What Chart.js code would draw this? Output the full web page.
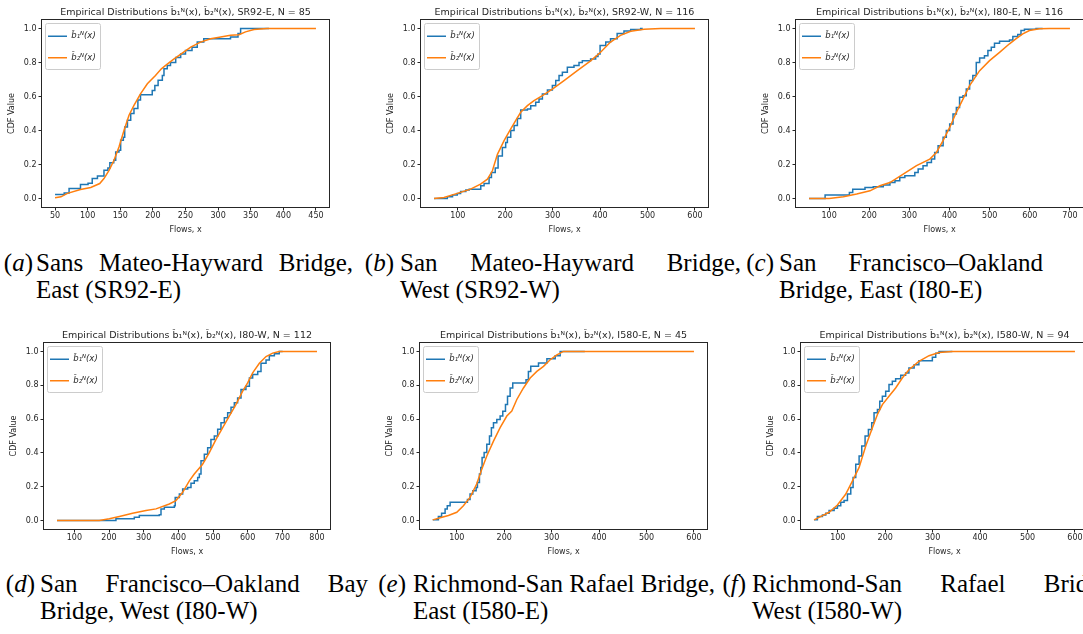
<!DOCTYPE html>
<html>
<head>
<meta charset="utf-8">
<script src="https://cdn.jsdelivr.net/npm/chart.js@4.4.0/dist/chart.umd.min.js"></script>
<style>
    html, body { margin: 0; padding: 0; background: #fff; overflow: hidden; }
    body { width: 1083px; height: 634px; position: relative; }
    canvas { position: absolute; }
    .cap { position: absolute; font-family: 'Liberation Serif', 'Times New Roman', serif; font-size: 25px; line-height: 27px; color: #000; white-space: nowrap; }
    .lab { text-align: right; }
    .just { white-space: normal; text-align: justify; text-align-last: justify; }
</style>
</head>
<body>

<div class="cap lab" style="left:-20px;width:53px;top:249px">(<i>a</i>)</div>
<div class="cap just" style="left:36px;width:317px;top:249px">Sans Mateo-Hayward Bridge,</div>
<div class="cap" style="left:36px;top:276px">East (SR92-E)</div>

<div class="cap lab" style="left:350px;width:44px;top:249px">(<i>b</i>)</div>
<div class="cap just" style="left:400px;width:341px;top:249px">San Mateo-Hayward Bridge,</div>
<div class="cap" style="left:400px;top:276px">West (SR92-W)</div>

<div class="cap lab" style="left:730px;width:44px;top:249px">(<i>c</i>)</div>
<div class="cap just" style="left:779px;width:264px;top:249px">San Francisco–Oakland</div>
<div class="cap" style="left:779px;top:276px">Bridge, East (I80-E)</div>

<div class="cap lab" style="left:-20px;width:55px;top:570px">(<i>d</i>)</div>
<div class="cap just" style="left:40px;width:328px;top:570px">San Francisco–Oakland Bay</div>
<div class="cap" style="left:40px;top:597px">Bridge, West (I80-W)</div>

<div class="cap lab" style="left:360px;width:46px;top:570px">(<i>e</i>)</div>
<div class="cap just" style="left:413px;width:302px;top:570px">Richmond-San Rafael Bridge,</div>
<div class="cap" style="left:413px;top:597px">East (I580-E)</div>

<div class="cap lab" style="left:700px;width:46px;top:570px">(<i>f</i>)</div>
<div class="cap just" style="left:752px;width:366px;top:570px">Richmond-San Rafael Bridge,</div>
<div class="cap" style="left:752px;top:597px">West (I580-W)</div>

<script>
// [flow, cdf] pairs; b1 = empirical step CDF, b2 = smooth CDF
const sr92eB1 = [[50,0.023],[64,0.033],[71.5,0.059],[89,0.082],[100.6,0.09],[107,0.117],[115,0.133],[125,0.166],[131,0.18],[134,0.211],[140,0.225],[143,0.274],[148,0.284],[150.6,0.342],[154.7,0.36],[156.8,0.42],[161,0.46],[166,0.5],[171,0.53],[177,0.58],[181,0.61],[199,0.636],[203,0.665],[208,0.695],[214.5,0.724],[217,0.763],[222,0.783],[227,0.8],[235,0.83],[242.6,0.85],[250,0.87],[260,0.89],[268,0.92],[278,0.94],[319,0.95],[330.5,0.97],[334.5,1.0],[378,1.0]];
const sr92eB2 = [[50,0.004],[59,0.01],[69,0.03],[89,0.053],[104.7,0.065],[118.5,0.088],[125,0.117],[132.8,0.166],[140.4,0.225],[148,0.303],[155.7,0.4],[163.4,0.49],[171,0.548],[181,0.616],[191.5,0.675],[204,0.724],[213,0.763],[222,0.79],[232,0.82],[245,0.855],[258,0.89],[273,0.92],[288.6,0.94],[304,0.95],[319,0.96],[332,0.963],[342,0.98],[355,0.994],[375,1.0],[450,1.0]];

const sr92wB1 = [[50,0],[74.7,0],[78,0.01],[89,0.02],[99,0.03],[106,0.041],[117,0.05],[124,0.055],[148.5,0.075],[155.5,0.088],[166,0.124],[171,0.153],[179,0.18],[185,0.25],[194,0.3],[201,0.33],[204.6,0.36],[211.7,0.4],[218.7,0.43],[225.7,0.47],[232.7,0.52],[246.8,0.527],[253.8,0.546],[264.3,0.566],[271.3,0.585],[278.4,0.615],[289,0.638],[299.4,0.664],[306.5,0.694],[313.5,0.723],[320.5,0.743],[331,0.772],[345,0.782],[355.6,0.8],[362.6,0.81],[380,0.82],[390.7,0.835],[395.6,0.85],[400,0.9],[412,0.92],[422,0.94],[436,0.97],[450.4,0.985],[464.5,0.994],[485.5,1.0],[490,1.0]];
const sr92wB2 = [[50,0],[71,0.006],[99,0.03],[127,0.055],[148,0.085],[162.5,0.114],[173,0.163],[183.6,0.26],[197.6,0.34],[211.7,0.41],[222,0.458],[232.7,0.507],[246.8,0.546],[260.8,0.576],[278.4,0.605],[299.4,0.644],[324,0.694],[352,0.752],[380,0.81],[401,0.86],[422,0.92],[443,0.96],[464.5,0.984],[492.6,0.996],[527.7,1.0],[600,1.0]];

const i80eB1 = [[50,0],[90,0.02],[150.5,0.035],[158.8,0.055],[189.4,0.065],[210,0.069],[235,0.08],[251.5,0.094],[264,0.104],[276,0.124],[288.7,0.134],[313.5,0.153],[321.8,0.173],[334,0.193],[344,0.212],[354.9,0.232],[363,0.271],[371.5,0.31],[384,0.36],[392,0.4],[400.4,0.438],[408.7,0.497],[417,0.536],[425,0.595],[433.5,0.605],[441.7,0.644],[450,0.694],[458,0.723],[466.6,0.8],[475,0.827],[487,0.84],[495.6,0.87],[504,0.89],[512,0.913],[524.6,0.925],[549.4,0.933],[557.7,0.953],[570,0.965],[578,0.988],[586.6,0.996],[615.6,1.0],[632,1.0]];
const i80eB2 = [[50,0],[100,0],[135.6,0.01],[168.7,0.026],[201.8,0.045],[226.6,0.075],[251.5,0.094],[284.6,0.143],[317.7,0.193],[350.8,0.232],[367.3,0.271],[383.9,0.34],[400.4,0.418],[417,0.507],[433.5,0.585],[450,0.664],[475,0.752],[499.7,0.811],[524.6,0.86],[549.4,0.91],[566,0.94],[582.5,0.968],[599,0.988],[623.9,0.998],[648.7,1.0],[700,1.0]];

const i80wB1 = [[50,0],[215.4,0],[220,0.01],[273,0.02],[287.5,0.03],[345,0.035],[350,0.069],[359.6,0.078],[388.5,0.088],[391,0.137],[403,0.157],[412.5,0.186],[427,0.196],[436.5,0.22],[446,0.235],[455.8,0.255],[460.6,0.275],[465.4,0.353],[475,0.392],[484.6,0.43],[494,0.48],[503.8,0.5],[513.5,0.54],[523,0.578],[532.7,0.608],[542.3,0.637],[552,0.67],[561.5,0.696],[571,0.725],[580.8,0.775],[595,0.794],[605,0.843],[614.4,0.863],[629,0.882],[638.5,0.93],[653,0.95],[662.5,0.975],[677,0.986],[691,1.0],[701,1.0]];
const i80wB2 = [[50,0],[172,0],[201,0.01],[230,0.024],[268,0.043],[306.7,0.059],[335.6,0.069],[374,0.098],[393,0.118],[412.5,0.167],[431.7,0.235],[446,0.275],[470,0.333],[489.4,0.402],[508.7,0.48],[528,0.55],[547,0.618],[566,0.686],[585.6,0.765],[600,0.814],[614.4,0.873],[633.7,0.93],[653,0.97],[672,0.99],[691,1.0],[800,1.0]];

const i580eB1 = [[49.4,0.004],[61.3,0.024],[68,0.043],[75.4,0.069],[80,0.088],[86,0.108],[122.5,0.124],[128,0.157],[133.8,0.176],[140.8,0.196],[143.6,0.225],[147.8,0.275],[150.6,0.314],[153.4,0.373],[157.7,0.402],[163.3,0.451],[169,0.5],[173,0.549],[177.4,0.578],[184.4,0.598],[191.4,0.618],[197,0.647],[202.7,0.686],[207,0.735],[212.5,0.784],[218,0.814],[246,0.833],[251,0.882],[256,0.912],[272.3,0.931],[290,0.957],[307.5,0.975],[318,1.0],[370,1.0]];
const i580eB2 = [[49.4,0.004],[65,0.016],[82.4,0.03],[100,0.049],[114,0.088],[128,0.137],[142,0.216],[152.7,0.304],[163.3,0.382],[177.4,0.47],[191.4,0.549],[205.5,0.618],[216,0.647],[226.6,0.716],[240.6,0.784],[254.7,0.843],[268.8,0.882],[282.8,0.912],[296.9,0.951],[311,0.98],[325,1.0],[600,1.0]];

const i580wB1 = [[50,0.004],[57,0.024],[67.7,0.033],[74.7,0.043],[81.7,0.059],[92.3,0.073],[99.3,0.088],[106.3,0.108],[113.3,0.118],[120.4,0.157],[127.4,0.196],[132.3,0.255],[137.9,0.333],[145,0.382],[150.6,0.441],[157.6,0.5],[164.6,0.539],[171.6,0.578],[176.5,0.637],[183.6,0.657],[188.5,0.706],[194,0.735],[201,0.765],[208,0.804],[215,0.824],[222,0.839],[232.7,0.859],[243,0.873],[250,0.902],[261,0.922],[271,0.945],[299.4,0.965],[306.5,0.99],[313.5,1.0],[341.6,1.0]];
const i580wB2 = [[50,0.004],[67.7,0.029],[81.7,0.049],[99.3,0.092],[116.9,0.157],[131,0.235],[145,0.314],[159,0.441],[173,0.549],[183.6,0.627],[194,0.686],[208,0.735],[222,0.784],[236,0.843],[250,0.892],[271,0.941],[292.4,0.975],[313.5,0.994],[341.6,1.0],[600,1.0]];

// tick labels
const ticks50to450 = [50, 100, 150, 200, 250, 300, 350, 400, 450];
const ticks100to600 = [100, 200, 300, 400, 500, 600];
const ticks100to700 = [100, 200, 300, 400, 500, 600, 700];
const ticks100to800 = [100, 200, 300, 400, 500, 600, 700, 800];
const cdfTicks = [0, 0.2, 0.4, 0.6, 0.8, 1.0];

const B1 = 'b\u0302\u2081\u1D3A(x)';
const B2 = 'b\u0302\u2082\u1D3A(x)';

// plot area: left, top, width, height (page px)
const panels = [
    { name: 'SR92-E', n: 85,  b1: sr92eB1, b2: sr92eB2, xr: [30, 470],    xt: ticks50to450,  area: [42, 20, 287, 187] },
    { name: 'SR92-W', n: 116, b1: sr92wB1, b2: sr92wB2, xr: [22.5, 627.5], xt: ticks100to600, area: [421, 20, 287, 187] },
    { name: 'I80-E',  n: 116, b1: i80eB1,  b2: i80eB2,  xr: [17.5, 732.5], xt: ticks100to700, area: [796, 20, 287, 187] },
    { name: 'I80-W',  n: 112, b1: i80wB1,  b2: i80wB2,  xr: [12.5, 837.5], xt: ticks100to800, area: [44, 343, 286, 186] },
    { name: 'I580-E', n: 45,  b1: i580eB1, b2: i580eB2, xr: [22.5, 627.5], xt: ticks100to600, area: [420, 343, 287, 186] },
    { name: 'I580-W', n: 94,  b1: i580wB1, b2: i580wB2, xr: [22.5, 627.5], xt: ticks100to600, area: [801, 343, 287, 186] },
];

const Y_AXIS_W = 44, TITLE_H = 20, X_AXIS_H = 30, RIGHT_PAD = 10;
const tickFont = { family: 'DejaVu Sans', size: 8 };
const textColor = '#262626';

const framePlugin = {
    id: 'frame',
    afterLayout(chart) {
        // legend sits inside the plot, top-left, like matplotlib's
        const lg = chart.legend;
        lg.left = chart.chartArea.left - 7;
        lg.top = chart.chartArea.top - 1;
        lg.bottom = chart.chartArea.bottom;
    },
    beforeDraw(chart) {
        const boxes = chart.legend && chart.legend.legendHitBoxes;
        if (!boxes || !boxes.length) return;
        const l = boxes[0].left - 3;
        const t = boxes[0].top - 9;
        const r = Math.max(...boxes.map(b => b.left + b.width)) + 4;
        const b = boxes[boxes.length - 1].top + 15;
        const ctx = chart.ctx;
        ctx.save();
        ctx.beginPath();
        ctx.roundRect(Math.round(l) + 0.5, Math.round(t) + 0.5, Math.round(r - l), Math.round(b - t), 2);
        ctx.fillStyle = 'rgba(255,255,255,0.8)';
        ctx.fill();
        ctx.strokeStyle = '#cccccc';
        ctx.lineWidth = 1;
        ctx.stroke();
        ctx.restore();
    },
    afterDraw(chart) {
        const a = chart.chartArea;
        const ctx = chart.ctx;
        ctx.save();
        ctx.strokeStyle = '#262626';
        ctx.lineWidth = 1;
        ctx.strokeRect(a.left - 0.5, a.top - 0.5, a.right - a.left + 1, a.bottom - a.top + 1);
        ctx.restore();
    }
};

function toPoints(pairs) {
    return pairs.map(p => ({ x: p[0], y: p[1] }));
}

function renderPanel(p, i) {
    const [left, top, w, h] = p.area;
    const canvas = document.createElement('canvas');
    canvas.id = 'panel' + i;
    canvas.width = w + Y_AXIS_W + RIGHT_PAD;
    canvas.height = h + TITLE_H + X_AXIS_H;
    canvas.style.left = (left - Y_AXIS_W) + 'px';
    canvas.style.top = (top - TITLE_H) + 'px';
    canvas.style.width = canvas.width + 'px';
    canvas.style.height = canvas.height + 'px';
    document.body.appendChild(canvas);

    new Chart(canvas, {
        type: 'line',
        data: {
            datasets: [{
                label: B1,
                data: toPoints(p.b1),
                borderColor: '#1f77b4',
                borderWidth: 1.5,
                stepped: true,
                pointRadius: 0,
                order: 1,
            }, {
                label: B2,
                data: toPoints(p.b2),
                borderColor: '#ff7f0e',
                borderWidth: 1.5,
                tension: 0,
                pointRadius: 0,
                order: 0,
            }]
        },
        options: {
            responsive: false,
            animation: false,
            events: [],
            layout: { padding: { left: 0, right: RIGHT_PAD, top: 0, bottom: 0 } },
            plugins: {
                title: {
                    display: true,
                    fullSize: false,
                    text: `Empirical Distributions ${B1}, ${B2}, ${p.name}, N = ${p.n}`,
                    color: textColor,
                    font: { family: 'DejaVu Sans', size: 9.5, weight: 'normal', lineHeight: 1.2 },
                    padding: { top: 6.5, bottom: 2.1 },
                },
                legend: {
                    position: 'chartArea',
                    align: 'start',
                    labels: {
                        usePointStyle: true,
                        pointStyle: 'line',
                        pointStyleWidth: 19,
                        padding: 13,
                        color: textColor,
                        font: { family: 'DejaVu Sans', size: 8.5, style: 'italic' },
                        sort: (a, b) => a.datasetIndex - b.datasetIndex,
                    }
                },
                tooltip: { enabled: false }
            },
            scales: {
                x: {
                    type: 'linear',
                    min: p.xr[0],
                    max: p.xr[1],
                    afterFit: s => { s.height = X_AXIS_H; },
                    afterBuildTicks: s => { s.ticks = p.xt.map(v => ({ value: v })); },
                    grid: { drawOnChartArea: false, tickLength: 3.5, color: textColor },
                    border: { display: false },
                    ticks: { color: textColor, font: tickFont, padding: 1, maxRotation: 0, autoSkip: false },
                    title: { display: true, text: 'Flows, x', color: textColor, font: tickFont, padding: { top: 0, bottom: 2 } }
                },
                y: {
                    type: 'linear',
                    min: -0.05,
                    max: 1.05,
                    afterFit: s => { s.width = Y_AXIS_W; },
                    afterBuildTicks: s => { s.ticks = cdfTicks.map(v => ({ value: v })); },
                    grid: { drawOnChartArea: false, tickLength: 3.5, color: textColor },
                    border: { display: false },
                    ticks: { color: textColor, font: tickFont, padding: 2, callback: v => v.toFixed(1) },
                    title: { display: true, text: 'CDF Value', color: textColor, font: tickFont, padding: { top: 9.5, bottom: 0 } }
                }
            }
        },
        plugins: [framePlugin]
    });
}

panels.forEach(renderPanel);
</script>
</body>
</html>
